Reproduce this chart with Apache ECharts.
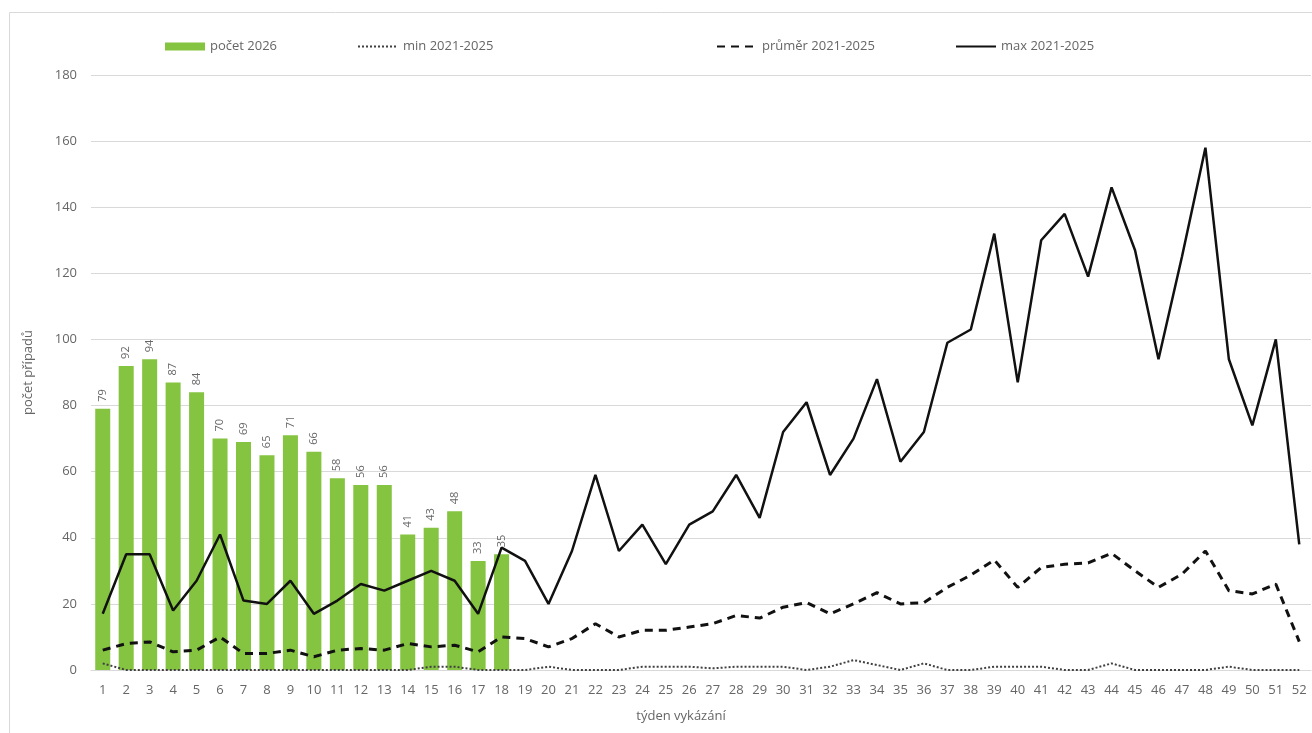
<!DOCTYPE html>
<html>
<head>
<meta charset="utf-8">
<script src="https://cdn.jsdelivr.net/npm/echarts@6/dist/echarts.min.js"></script>
<style>
  html, body { margin: 0; padding: 0; background: #fff; }
</style>
</head>
<body>
<div id="main" style="width: 1312px; height: 733px"></div>
<script>
// týdny 1-52
const weeks = Array.from({ length: 52 }, (_, i) => String(i + 1))
// počet 2026 (zatím jen 18 týdnů)
const count2026 = [79, 92, 94, 87, 84, 70, 69, 65, 71, 66, 58, 56, 56, 41, 43, 48, 33, 35]
const min2125 = [2, 0, 0, 0, 0, 0, 0, 0, 0, 0, 0, 0, 0, 0, 1, 1, 0, 0, 0, 1,
  0, 0, 0, 1, 1, 1, 0.5, 1, 1, 1, 0, 1, 3, 1.5, 0, 2, 0, 0, 1, 1,
  1, 0, 0, 2, 0, 0, 0, 0, 1, 0, 0, 0]
const avg2125 = [6, 8, 8.5, 5.5, 6, 10, 5, 5, 6, 4, 6, 6.5, 6, 8, 7, 7.5, 5.5, 10, 9.5, 7,
  9.5, 14, 10, 12, 12, 13, 14, 16.5, 15.7, 19, 20.4, 17, 20, 23.4, 20, 20.4, 25, 28.7, 33.3, 25,
  31, 32, 32.4, 35.3, 30, 25, 29, 36, 24, 23, 26, 8.6]
const max2125 = [17, 35, 35, 18, 27, 41, 21, 20, 27, 17, 21, 26, 24, 27, 30, 27, 17, 37, 33, 20,
  36, 59, 36, 44, 32, 44, 48, 59, 46, 72, 81, 59, 70, 88, 63, 72, 99, 103, 132, 87,
  130, 138, 119, 146, 127, 94, 125, 158, 94, 74, 100, 38]

const green = '#85c441'
const txt = '#666666'
const font = 'Open Sans'

const myChart = echarts.init(document.getElementById('main'))

function legendAt(left, name, w, h, hideSymbol) {
  const lg = {
    left: left, top: 35, itemWidth: w, itemHeight: h, itemGap: 6,
    data: [name],
    textStyle: { color: txt, fontSize: 13, fontFamily: font }
  }
  if (hideSymbol) lg.itemStyle = { opacity: 0 }
  else lg.icon = 'rect'
  return lg
}

const option = {
  animation: false,
  graphic: [
    {
      type: 'rect',
      shape: { x: 9.5, y: 12.5, width: 1320, height: 740 },
      style: { fill: 'none', stroke: '#d9d9d9', lineWidth: 1 },
      silent: true
    }
  ],
  legend: [
    legendAt(160, 'počet 2026', 40, 8, false),
    legendAt(352, 'min 2021-2025', 40, 10, true),
    legendAt(711, 'průměr 2021-2025', 40, 10, true),
    legendAt(950, 'max 2021-2025', 40, 10, true)
  ],
  grid: { left: 91, right: 1, top: 75, bottom: 63 },
  xAxis: {
    type: 'category',
    data: weeks,
    name: 'týden vykázání',
    nameLocation: 'middle',
    nameGap: 40,
    nameTextStyle: { color: txt, fontSize: 13, fontFamily: font, padding: [0, 40, 0, 0] },
    axisLine: { lineStyle: { color: '#d9d9d9' } },
    axisTick: { show: false },
    axisLabel: { color: txt, fontSize: 13, fontFamily: font, interval: 0, margin: 14 }
  },
  yAxis: {
    type: 'value',
    min: 0,
    max: 180,
    interval: 20,
    name: 'počet případů',
    nameLocation: 'middle',
    nameGap: 56,
    nameTextStyle: { color: txt, fontSize: 13, fontFamily: font },
    axisLine: { show: false },
    axisTick: { show: false },
    axisLabel: { color: txt, fontSize: 13, fontFamily: font, margin: 14 },
    splitLine: { lineStyle: { color: '#d9d9d9', width: 1 } }
  },
  series: [
    {
      name: 'počet 2026',
      type: 'bar',
      data: count2026,
      barWidth: '64%',
      itemStyle: { color: green },
      label: {
        show: true,
        position: 'top',
        rotate: 90,
        align: 'left',
        verticalAlign: 'middle',
        distance: 7,
        color: txt,
        fontSize: 11,
        fontFamily: font
      }
    },
    {
      name: 'min 2021-2025',
      type: 'line',
      data: min2125,
      symbol: 'none',
      itemStyle: { color: '#404040' },
      lineStyle: { color: '#404040', width: 2, type: [2, 2] }
    },
    {
      name: 'průměr 2021-2025',
      type: 'line',
      data: avg2125,
      symbol: 'none',
      itemStyle: { color: '#111' },
      lineStyle: { color: '#111', width: 3, type: [8, 6] }
    },
    {
      name: 'max 2021-2025',
      type: 'line',
      data: max2125,
      symbol: 'none',
      itemStyle: { color: '#111' },
      lineStyle: { color: '#111', width: 2.5 }
    }
  ]
}

myChart.setOption(option)
</script>
</body>
</html>
